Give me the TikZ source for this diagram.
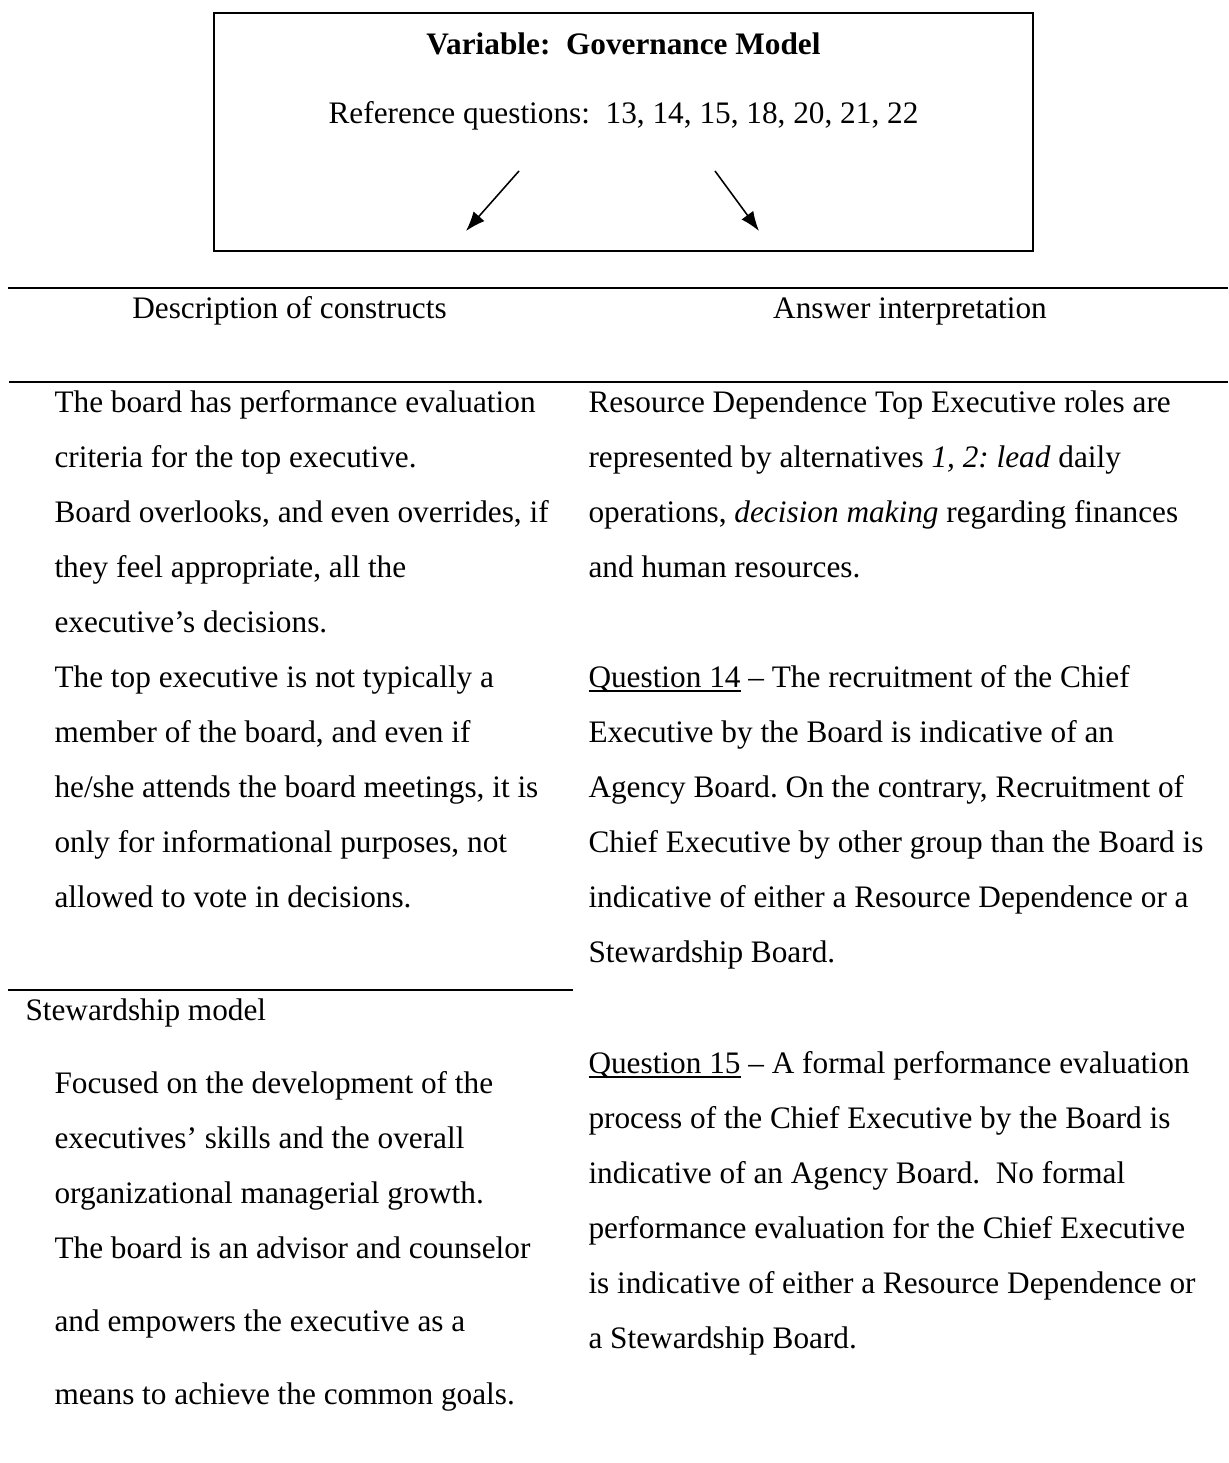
\documentclass[tikz,border=0pt]{standalone}
\usepackage{fontspec}
\setmainfont{Liberation Serif}
\usetikzlibrary{arrows.meta}
\frenchspacing
% underline drawn just below the baseline, as a word processor does
\newcommand\qline[1]{\setbox0\hbox{#1}\rlap{\rule[-1.9pt]{\wd0}{0.6pt}}\box0\relax}
\begin{document}
\begin{tikzpicture}[x=0.3837pt,y=-0.3837pt,
  txt/.style={inner sep=0pt,anchor=base west,font=\fontsize{12pt}{14pt}\selectfont},
  ctxt/.style={txt,anchor=base},
  rulefull/.style={line width=0.9pt},
  frame/.style={line width=0.8pt},
  pointer/.style={line width=0.6pt,-{Latex[length=7.5pt,width=5.6pt]}}]
\useasboundingbox (0,0) rectangle (1228,1463);

% heading box with the variable and its reference questions
\coordinate (boxnw) at (214,13);
\coordinate (boxse) at (1033,251);
\draw[frame] (boxnw) rectangle (boxse);
\node[ctxt] (title) at (623.5,55) {\textbf{Variable:\ \ Governance Model}};
\node[ctxt] (refq) at (623.5,124) {Reference questions:\ \ 13, 14, 15, 18, 20, 21, 22};
\coordinate (a1s) at (519,171);
\coordinate (a1e) at (466,231);
\coordinate (a2s) at (715,171);
\coordinate (a2e) at (759,231);
\draw[pointer] (a1s) -- (a1e);
\draw[pointer] (a2s) -- (a2e);

% table rules
\draw[rulefull] (8,288) -- (1228,288);
\draw[rulefull] (9,382) -- (1228,382);
\draw[rulefull] (8,990) -- (573,990);

% column headers
\node[ctxt] (hleft) at (289.5,318) {Description of constructs};
\node[ctxt] (hright) at (910,318) {Answer interpretation};

% left column: agency model description
\foreach \txt [count=\i from 0] in {
  {The board has performance evaluation},
  {criteria for the top executive.},
  {Board overlooks, and even overrides, if},
  {they feel appropriate, all the},
  {executive’s decisions.},
  {The top executive is not typically a},
  {member of the board, and even if},
  {he/she attends the board meetings, it is},
  {only for informational purposes, not},
  {allowed to vote in decisions.}}
  \node[txt] (ag\i) at (54,{412+55*\i}) {\txt};

% left column: stewardship model
\node[txt] (stew) at (25,1020) {Stewardship model};
\node[txt] (st0) at (54,1093) {Focused on the development of the};
\node[txt] (st1) at (54,1148) {executives’ skills and the overall};
\node[txt] (st2) at (54,1203) {organizational managerial growth.};
\node[txt] (st3) at (54,1258) {The board is an advisor and counselor};
\node[txt] (st4) at (54,1331) {and empowers the executive as a};
\node[txt] (st5) at (54,1404) {means to achieve the common goals.};

% right column: answer interpretation
\foreach \txt [count=\i from 0] in {
  {Resource Dependence Top Executive roles are},
  {represented by alternatives \textit{1, 2: lead} daily},
  {operations, \textit{decision making} regarding finances},
  {and human resources.}}
  \node[txt] (rd\i) at (588,{412+55*\i}) {\txt};

\foreach \txt [count=\i from 0] in {
  {\qline{Question 14} – The recruitment of the Chief},
  {Executive by the Board is indicative of an},
  {Agency Board. On the contrary, Recruitment of},
  {Chief Executive by other group than the Board is},
  {indicative of either a Resource Dependence or a},
  {Stewardship Board.}}
  \node[txt] (qa\i) at (588,{687+55*\i}) {\txt};

\foreach \txt [count=\i from 0] in {
  {\qline{Question 15} – A formal performance evaluation},
  {process of the Chief Executive by the Board is},
  {indicative of an Agency Board.\ \ No formal},
  {performance evaluation for the Chief Executive},
  {is indicative of either a Resource Dependence or},
  {a Stewardship Board.}}
  \node[txt] (qb\i) at (588,{1073+55*\i}) {\txt};
\end{tikzpicture}
\end{document}
